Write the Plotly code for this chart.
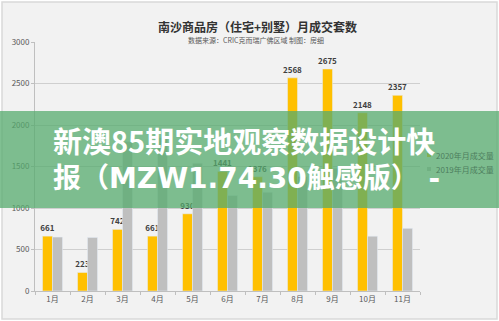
import plotly.graph_objects as go

months = ["1月", "2月", "3月", "4月", "5月", "6月", "7月", "8月", "9月", "10月", "11月"]
sales_2020 = [661, 223, 742, 661, 930, 1441, 1376, 2568, 2675, 2148, 2357]
sales_2019 = [650, 645, 1800, 1850, 1540, 1150, 1190, 1380, 1480, 660, 755]
series_names = ["2020年月成交量", "2019年月成交量"]
series_colors = ["#FFC000", "#BFBFBF"]
y_ticks = [0, 500, 1000, 1500, 2000, 2500, 3000]

title_text = "南沙商品房（住宅+别墅）月成交套数"
subtitle_text = "数据来源：CRIC克而瑞广佛区域 制图：房细"
overlay_lines = ["新澳85期实地观察数据设计快", "报（MZW1.74.30触感版） -"]

FONT = "Noto Sans CJK SC, Microsoft YaHei, sans-serif"
W, H = 499, 321
L, R, T, B = 35, 79, 42, 30
pw, ph = W - L - R, H - T - B

def px_x(x):
    return (x - L) / pw

def px_y(y):
    return (H - B - y) / ph

fig = go.Figure()
fig.add_bar(x=months, y=sales_2020, name=series_names[0], marker_color=series_colors[0],
            text=[str(v) for v in sales_2020], textposition="outside",
            constraintext="none",
            textfont=dict(size=8, color="#404040", family=FONT, weight="bold"),
            cliponaxis=False)
fig.add_bar(x=months, y=sales_2019, name=series_names[1], marker_color=series_colors[1])

fig.update_layout(
    width=W, height=H,
    margin=dict(l=L, r=R, t=T, b=B, autoexpand=False),
    paper_bgcolor="white", plot_bgcolor="rgba(0,0,0,0)",
    barmode="group", bargap=0.43, bargroupgap=0,
    font=dict(family=FONT, size=8, color="#595959"),
    showlegend=False,
    xaxis=dict(showline=True, linecolor="#BFBFBF", linewidth=1,
               ticks="outside", tickson="boundaries", ticklen=3, tickcolor="#BFBFBF",
               tickfont=dict(size=8, color="#595959")),
    yaxis=dict(range=[0, 3000], tickvals=y_ticks, showgrid=True, gridcolor="#CFCFCF",
               gridwidth=1, showline=True, linecolor="#BFBFBF", ticks="outside",
               ticklen=3, tickcolor="#BFBFBF", zeroline=False,
               tickfont=dict(size=8, color="#595959")),
)

# chart frame
fig.add_shape(type="rect", xref="paper", yref="paper",
              x0=px_x(2), x1=px_x(497), y0=px_y(319), y1=px_y(2),
              fillcolor="#F2F2F2", line=dict(color="#D9D9D9", width=1.5), layer="below")

# titles
fig.add_annotation(text=title_text, xref="paper", yref="paper", x=px_x(257), y=px_y(16),
                   showarrow=False, font=dict(size=12, color="#333333", family=FONT, weight="bold"))
fig.add_annotation(text=subtitle_text, xref="paper", yref="paper", x=px_x(256), y=px_y(33),
                   showarrow=False, font=dict(size=7, color="#595959", family=FONT))

# legend (sits under the banner in the reference)
legend_y = [155, 169]
for name, color, ly in zip(series_names, series_colors, legend_y):
    fig.add_shape(type="rect", xref="paper", yref="paper",
                  x0=px_x(427), x1=px_x(431), y0=px_y(ly + 2), y1=px_y(ly - 2),
                  fillcolor=color, line=dict(width=0), layer="above")
    fig.add_annotation(text=name, xref="paper", yref="paper", x=px_x(434), y=px_y(ly),
                       xanchor="left", showarrow=False,
                       font=dict(size=8, color="#4d7d5e", family=FONT))

# green overlay banner
fig.add_shape(type="rect", xref="paper", yref="paper",
              x0=px_x(0), x1=px_x(499), y0=px_y(208), y1=px_y(111),
              fillcolor="rgba(85,171,110,0.75)", line=dict(width=0), layer="above")
fig.add_annotation(text=overlay_lines[0], xref="paper", yref="paper", x=px_x(51), y=px_y(140),
                   xanchor="left", showarrow=False,
                   font=dict(size=29, color="white", family=FONT, weight="bold"))
fig.add_annotation(text=overlay_lines[1], xref="paper", yref="paper", x=px_x(51), y=px_y(178),
                   xanchor="left", showarrow=False,
                   font=dict(size=28, color="white", family="DejaVu Sans, " + FONT, weight="bold"))

fig.write_html("out.html")
